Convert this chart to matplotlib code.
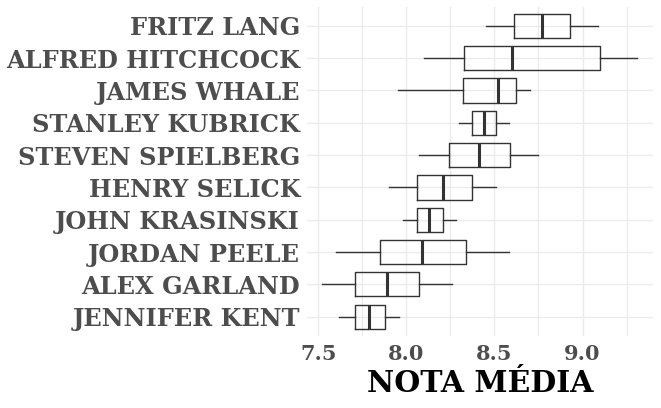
import matplotlib.pyplot as plt

directors = ['JENNIFER KENT', 'ALEX GARLAND', 'JORDAN PEELE', 'JOHN KRASINSKI',
             'HENRY SELICK', 'STEVEN SPIELBERG', 'STANLEY KUBRICK',
             'JAMES WHALE', 'ALFRED HITCHCOCK', 'FRITZ LANG']
whislo = [7.62, 7.52, 7.60, 7.98, 7.90, 8.07, 8.30, 7.95, 8.10, 8.45]
q1 = [7.71, 7.71, 7.85, 8.06, 8.06, 8.24, 8.37, 8.32, 8.33, 8.61]
med = [7.79, 7.89, 8.09, 8.13, 8.21, 8.41, 8.44, 8.52, 8.60, 8.77]
q3 = [7.88, 8.07, 8.34, 8.21, 8.37, 8.59, 8.51, 8.62, 9.10, 8.93]
whishi = [7.96, 8.26, 8.58, 8.28, 8.51, 8.75, 8.58, 8.70, 9.31, 9.09]

xticks = [7.5, 8.0, 8.5, 9.0]
xtick_labels = ['7.5', '8.0', '8.5', '9.0']
minor_ticks = [7.75, 8.25, 8.75, 9.25]

stats = []
for i in range(len(directors)):
    stats.append({'whislo': whislo[i], 'q1': q1[i], 'med': med[i],
                  'q3': q3[i], 'whishi': whishi[i], 'fliers': []})

fig = plt.figure(figsize=(6.61, 4.08), dpi=100)
ax = fig.add_axes([307 / 661, 1 - 336 / 408, 346 / 661, 329.5 / 408])

ax.bxp(stats, positions=range(1, 11), vert=False, widths=0.75,
       showfliers=False, showcaps=False, patch_artist=False,
       boxprops=dict(color='#333333', linewidth=1.0),
       whiskerprops=dict(color='#333333', linewidth=1.0),
       medianprops=dict(color='#333333', linewidth=2.2))

ax.set_xlim(7.436, 9.40)
ax.set_ylim(0.4, 10.6)
ax.set_xticks(xticks)
ax.set_xticklabels(xtick_labels)
ax.set_xticks(minor_ticks, minor=True)
ax.set_yticks(range(1, 11))
ax.set_yticklabels(directors)

ax.grid(True, which='both', color='#EBEBEB', linewidth=1.0)
ax.set_axisbelow(True)
for s in ax.spines.values():
    s.set_visible(False)
ax.tick_params(which='both', length=0)
ax.tick_params(axis='y', pad=5)
ax.tick_params(axis='x', pad=6)

for lab in ax.get_yticklabels():
    lab.set_fontfamily('DejaVu Serif')
    lab.set_fontweight('bold')
    lab.set_fontsize(17.3)
    lab.set_color('#4D4D4D')
for lab in ax.get_xticklabels():
    lab.set_fontfamily('DejaVu Serif')
    lab.set_fontweight('bold')
    lab.set_fontsize(15)
    lab.set_color('#4D4D4D')

ax.set_xlabel('NOTA MÉDIA', fontfamily='DejaVu Serif', fontweight='bold',
              fontsize=21.5, color='black', labelpad=3)

fig.savefig('out.png', dpi=100, facecolor='white')
